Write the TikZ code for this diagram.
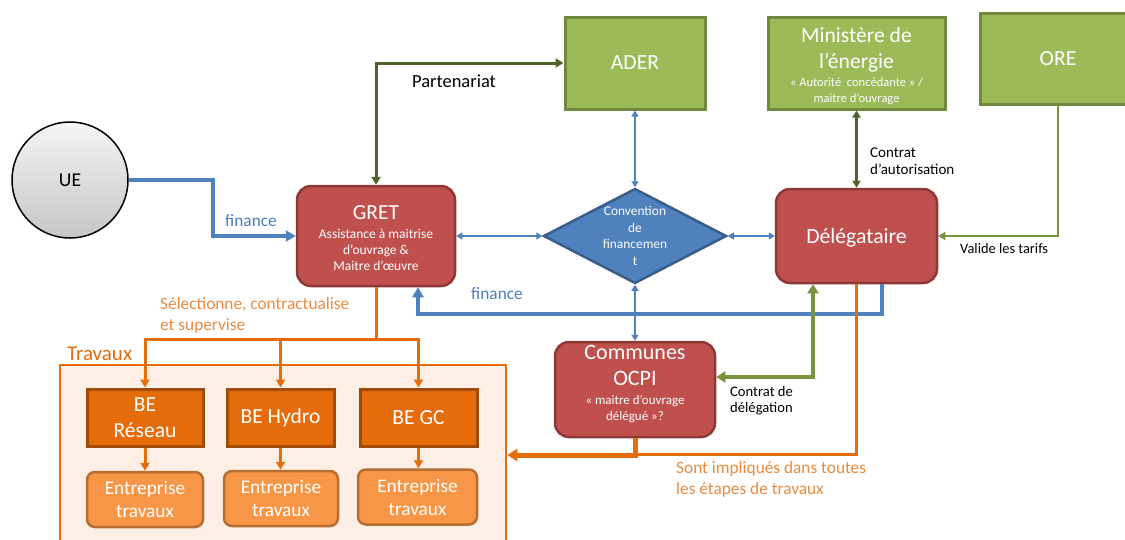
\documentclass[tikz,border=0pt]{standalone}
\usepackage{fontspec}
\setmainfont{Carlito}
\usetikzlibrary{arrows.meta}
\usetikzlibrary{shapes,positioning,calc}
\definecolor{redfill}{HTML}{C0504D}
\definecolor{redline}{HTML}{8C3836}
\definecolor{greenfill}{HTML}{9BBB59}
\definecolor{greenline}{HTML}{71893F}
\definecolor{bluefill}{HTML}{4F81BD}
\definecolor{blueline}{HTML}{385D8A}
\definecolor{befill}{HTML}{E46C0A}
\definecolor{beline}{HTML}{A04B07}
\definecolor{entfill}{HTML}{F79646}
\definecolor{entline}{HTML}{B66D31}
\definecolor{travfill}{HTML}{FDEFE5}
\definecolor{darkgreen}{HTML}{4F6228}
\definecolor{olivegreen}{HTML}{77933C}
\definecolor{labelorange}{HTML}{E98A3F}
\definecolor{labelblue}{HTML}{4A7DBA}
\newcommand{\fsz}[2]{\fontsize{#1}{#2}\selectfont}

\begin{document}
\begin{tikzpicture}[x=1pt,y=-1pt,
	redbox/.style={draw=redline,fill=redfill,line width=2.5pt,rounded corners=14pt,text=white,align=center,inner sep=0pt},
	greenbox/.style={draw=greenline,fill=greenfill,line width=3pt,text=white,align=center,inner sep=0pt,font=\fsz{21.6}{26}},
	bebox/.style={draw=beline,fill=befill,line width=3pt,text=white,align=center,inner sep=0pt,minimum height=57pt,font=\fsz{21.5}{26}},
	entbox/.style={draw=entline,fill=entfill,line width=2.5pt,rounded corners=8pt,text=white,align=center,inner sep=0pt,minimum height=55pt,font=\fsz{19.3}{23}},
	txt/.style={inner sep=0pt,align=left},
	finlink/.style={draw=bluefill,line width=4pt,-{Triangle[length=10pt,width=11pt]}},
	convlink/.style={draw=bluefill,line width=1.8pt,{Triangle[length=6pt,width=7pt]}-{Triangle[length=6pt,width=7pt]}},
	worklink/.style={draw=befill,line width=3pt,-{Triangle[length=8pt,width=9pt]}}]
	\useasboundingbox (0,0) rectangle (1125,539);
	\clip (0,0) rectangle (1125,539);

	% travaux
	\node[draw=befill,fill=travfill,line width=2.5pt,minimum width=446pt,minimum height=180pt,inner sep=0pt] (trav) at (283,455) {};
	\node[txt,text=befill,font=\fsz{21}{24},anchor=west] (travlabel) at (67,354) {Travaux};

	\node[draw=black,line width=1.5pt,circle,minimum size=116pt,inner sep=0pt,top color=gray!8,bottom color=gray!45,font=\fsz{19.6}{24}] (ue) at (70,180) {UE};
	\node[redbox,minimum width=158pt,minimum height=100pt,font=\fsz{13.5}{16}] (gret) at (376,236)
		{\rule{0pt}{18pt}{\fsz{21.5}{24}GRET}\\[3pt]Assistance à maitrise\\d’ouvrage \&\\Maitre d’œuvre};
	\node[greenbox,minimum width=140pt,minimum height=92pt] (ader) at (635,63) {ADER};
	\node[greenbox,minimum width=177pt,minimum height=92pt,font=\fsz{12.5}{16}] (min) at (856.5,63)
		{\rule{0pt}{22pt}{\fsz{21.6}{26}Ministère de}\\[10pt]{\fsz{21.6}{26}l’énergie}\\[2pt]« Autorité~~concédante » /\\maitre d’ouvrage};
	\node[greenbox,minimum width=156pt,minimum height=91pt] (ore) at (1058,58.5) {ORE};
	\node[diamond,aspect=1.93,draw=blueline,fill=bluefill,line width=2.5pt,minimum width=183pt,minimum height=95pt,inner sep=0pt,text=white,align=center,font=\fsz{13.4}{16.5}] (conv) at (635,236)
		{Convention\\de\\financemen\\t};
	\node[redbox,minimum width=161pt,minimum height=94pt,font=\fsz{21.7}{26}] (del) at (856.5,236) {\rule{0pt}{19pt}Délégataire};
	\node[redbox,minimum width=160pt,minimum height=95pt,font=\fsz{13}{16}] (comm) at (635,389.5)
		{{\fsz{22}{26}Communes}\\[10pt]{\fsz{22}{26}OCPI}\\[3pt]« maitre d’ouvrage\\délégué »?\rule[-13pt]{0pt}{13pt}};

	% bureaux d'etudes et entreprises
	\node[bebox,minimum width=116pt] (ber) at (145,417.5) {BE\\Réseau};
	\node[bebox,minimum width=107pt] (beh) at (280.5,417.5) {BE Hydro};
	\node[bebox,minimum width=117pt] (beg) at (418.5,417.5) {BE GC};
	\node[entbox,minimum width=116pt] (entr) at (145,499.5) {Entreprise\\travaux};
	\node[entbox,minimum width=114pt] (enth) at (281,498.5) {Entreprise\\travaux};
	\node[entbox,minimum width=119pt] (entg) at (417.5,497) {Entreprise\\travaux};

	% liens
	\draw[finlink] (ue.east) -- ++(84,0) |- (gret.west);
	\node[txt,text=labelblue,font=\fsz{17.3}{20}] (fin1) at (251,221) {finance};
	\draw[draw=darkgreen,line width=3pt,{Triangle[length=8pt,width=9pt]}-{Triangle[length=8pt,width=9pt]}] (gret.north) |- (ader.west);
	\node[txt,font=\fsz{18.5}{22}] (part) at (454,81) {Partenariat};
	\draw[convlink] (gret.east) -- (conv.west);
	\draw[convlink] (ader.south) -- (conv.north);
	\draw[convlink] (conv.east) -- (conv.east -| del.west);
	\draw[convlink] (conv.south) -- (comm.north);
	\draw[draw=darkgreen,line width=2.5pt,{Triangle[length=7pt,width=8pt]}-{Triangle[length=7pt,width=8pt]}] (min.south) -- (del.north);
	\node[txt,anchor=north west,font=\fsz{15}{17}] (contrat1) at (870,148) {Contrat\\d’autorisation};
	\draw[draw=olivegreen,line width=2pt,-{Triangle[length=7pt,width=8pt]}] (ore.south) |- (del.east);
	\node[txt,anchor=west,font=\fsz{14.4}{17}] (tarifs) at (960,249) {Valide les tarifs};
	\draw[finlink] ([xshift=25.5pt]del.south) -- ++(0,30) -| ([xshift=42pt]gret.south);
	\node[txt,text=labelblue,font=\fsz{17.3}{20}] (fin2) at (497,294) {finance};
	\draw[draw=olivegreen,line width=4.5pt,{Triangle[length=9pt,width=11pt]}-{Triangle[length=9pt,width=11pt]}] ([yshift=12.5pt]comm.east) -| ([xshift=-43.5pt]del.south);
	\node[txt,anchor=north west,font=\fsz{14.6}{16}] (contrat2) at (730,386) {Contrat de\\délégation};

	\draw[draw=befill,line width=3pt] (gret.south) -- ++(0,52) coordinate (split);
	\draw[worklink] (split) -| (ber.north);
	\draw[worklink] (split) -| (beh.north);
	\draw[worklink] (split) -| (beg.north);
	\node[txt,anchor=north west,text=labelorange,font=\fsz{17.3}{21}] (selec) at (160,297) {Sélectionne, contractualise\\et supervise};
	\draw[worklink] (ber.south) -- (entr.north);
	\draw[worklink] (beh.south) -- (beh.south |- enth.north);
	\draw[worklink] (beg.south) -- (beg.south |- entg.north);
	\draw[draw=befill,line width=3pt] (del.south) |- ([yshift=-16pt]comm.south);
	\draw[draw=befill,line width=5pt,-{Triangle[length=10pt,width=12pt]}] (comm.south) |- (trav.east);
	\node[txt,anchor=north west,text=labelorange,font=\fsz{17.3}{21}] (etapes) at (676,461) {Sont impliqués dans toutes\\les étapes de travaux};
\end{tikzpicture}
\end{document}
